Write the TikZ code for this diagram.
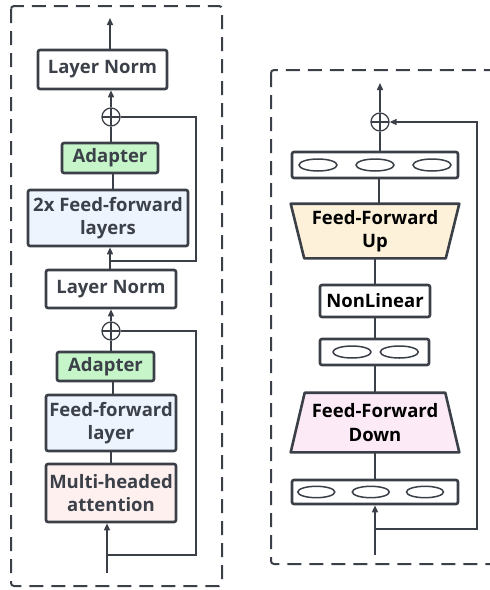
\documentclass[tikz,border=0pt]{standalone}
\usepackage{fontspec}
\setmainfont{Open Sans}
\usetikzlibrary{arrows.meta,backgrounds}
\definecolor{strk}{HTML}{3B4048}
\definecolor{txtl}{HTML}{3B4049}
\definecolor{adgreen}{HTML}{C5F5C8}
\definecolor{ffblue}{HTML}{EEF4FD}
\definecolor{mhapink}{HTML}{FDF0EE}
\definecolor{upyel}{HTML}{FDF1D9}
\definecolor{dnpink}{HTML}{FCEBF6}
\tikzset{
  blk/.style={draw=strk, line width=2.6pt, rounded corners=2pt, inner sep=0pt,
    font=\fontsize{18.5}{23.5}\selectfont\bfseries, text=txtl, align=center},
  rblk/.style={blk, text=black},
  plusnode/.style={circle, draw=strk, line width=1.3pt, minimum size=18pt, inner sep=0pt,
    path picture={\draw[strk, line width=1.3pt] (path picture bounding box.north) -- (path picture bounding box.south)
      (path picture bounding box.west) -- (path picture bounding box.east);}},
  conn/.style={draw=strk, line width=1.5pt},
  arr/.style={conn, -{Triangle[width=6pt,length=7pt]}},
  dashbox/.style={draw=strk, line width=2pt, dash pattern=on 14pt off 8pt, rounded corners=3pt},
  ell/.style={draw=strk, line width=1.5pt},
}
\begin{document}
\begin{tikzpicture}[x=1pt,y=-1pt]
\useasboundingbox (0,0) rectangle (490,590);
% dashed frames
\draw[dashbox] (11,6) rectangle (222,586);
\draw[dashbox] (271,70) rectangle (510,564);

% ---------- left panel ----------
\node[blk, minimum width=129pt, minimum height=39pt] (ln1) at (102.5,69.5) {Layer Norm};
\node[plusnode] (p1) at (111,117) {};
\node[blk, fill=adgreen, minimum width=96pt, minimum height=30pt] (ad1) at (110,158) {Adapter};
\node[blk, fill=ffblue, minimum width=160pt, minimum height=56pt] (ff2) at (108,218) {2x Feed-forward\\layers};
\node[blk, minimum width=130pt, minimum height=38pt] (ln2) at (111,289) {Layer Norm};
\node[plusnode] (p2) at (111,331) {};
\node[blk, fill=adgreen, minimum width=97pt, minimum height=29pt] (ad2) at (105.5,366.5) {Adapter};
\node[blk, fill=ffblue, minimum width=130pt, minimum height=56pt] (ff1) at (111,423) {Feed-forward\\layer};
\node[blk, fill=mhapink, minimum width=130pt, minimum height=58pt] (mha) at (111,493) {Multi-headed\\attention};

\coordinate (outL) at (110,18);
\coordinate (inL) at (107,573);
\coordinate (j1) at (110,261);
\coordinate (j2) at (107,555);
\coordinate (c1a) at (196,117);
\coordinate (c1b) at (196,261);
\coordinate (c2a) at (196,331);
\coordinate (c2b) at (196,555);

\draw[arr] (ln1.north -| outL) -- (outL);
\draw[arr] (p1.north) -- (p1.north |- ln1.south);
\draw[conn] (ad1.north -| p1) -- (p1.south);
\draw[conn] (ff2.north -| 113,0) -- (ad1.south -| 113,0);
\draw[arr] (ln2.north -| j1) -- (ff2.south -| j1);
\draw[conn] (p1.east) -- (c1a) -- (c1b) -- (j1);
\draw[arr] (p2.north) -- (p2.north |- ln2.south);
\draw[conn] (ad2.north -| p2) -- (p2.south);
\draw[conn] (ff1.north -| 113,0) -- (ad2.south -| 113,0);
\draw[conn] (mha.north) -- (ff1.south);
\draw[arr] (inL) -- (mha.south -| inL);
\draw[conn] (p2.east) -- (c2a) -- (c2b) -- (j2);

% ---------- right panel ----------
\node[plusnode] (p3) at (380,122) {};
\node[blk, minimum width=166pt, minimum height=26pt] (v1) at (375,165) {};
\node[rblk, draw=none, minimum width=166pt, minimum height=52pt] (up) at (375,231) {Feed-Forward\\Up};
\node[rblk, minimum width=110pt, minimum height=32pt] (nl) at (375,301) {NonLinear};
\node[blk, minimum width=109pt, minimum height=26pt] (v2) at (374.5,352) {};
\node[rblk, draw=none, minimum width=166pt, minimum height=57pt] (dn) at (375,422.5) {Feed-Forward\\Down};
\node[blk, minimum width=166pt, minimum height=24pt] (v3) at (375,492) {};

\begin{scope}[on background layer]
\draw[draw=strk, fill=upyel, line width=2.6pt, line join=round]
  (up.north west) -- (up.north east) -- ([xshift=-13.5pt]up.south east) -- ([xshift=13.5pt]up.south west) -- cycle;
\draw[draw=strk, fill=dnpink, line width=2.6pt, line join=round]
  ([xshift=14pt]dn.north west) -- ([xshift=-14pt]dn.north east) -- (dn.south east) -- (dn.south west) -- cycle;
\end{scope}

\draw[ell] ([xshift=-57pt]v1.center) ellipse (19pt and 6pt);
\draw[ell] (v1.center) ellipse (19pt and 6pt);
\draw[ell] ([xshift=57pt]v1.center) ellipse (19pt and 6pt);
\draw[ell] ([xshift=-22.5pt]v2.center) ellipse (19pt and 6pt);
\draw[ell] ([xshift=24.8pt]v2.center) ellipse (19pt and 6pt);
\draw[ell] ([xshift=-58.7pt]v3.center) ellipse (18.5pt and 5.7pt);
\draw[ell] ([xshift=-4.2pt]v3.center) ellipse (18.5pt and 5.7pt);
\draw[ell] ([xshift=50pt]v3.center) ellipse (18.5pt and 5.7pt);

\coordinate (outR) at (380,83);
\coordinate (inR) at (375,555);
\coordinate (jR) at (375,529);
\coordinate (cRa) at (477,529);
\coordinate (cRb) at (477,122);

\draw[arr] (p3.north) -- (outR);
\draw[conn] (v1.north -| p3) -- (p3.south);
\draw[conn] (up.north -| 379,0) -- (v1.south -| 379,0);
\draw[conn] (nl.north) -- (up.south);
\draw[conn] (v2.north -| nl) -- (nl.south);
\draw[conn] (dn.north -| nl) -- (v2.south -| nl);
\draw[conn] (v3.north) -- (dn.south);
\draw[arr] (inR) -- (v3.south);
\draw[arr] (jR) -- (cRa) -- (cRb) -- (p3.east);
\end{tikzpicture}
\end{document}
